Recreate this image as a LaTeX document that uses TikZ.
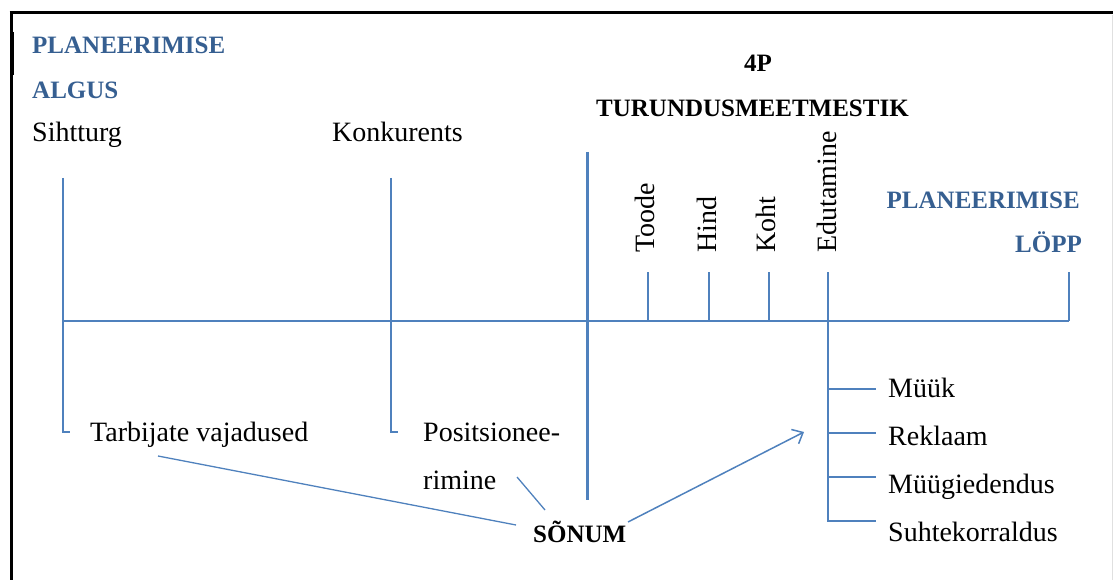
\documentclass[tikz,border=0pt]{standalone}
\usepackage{fontspec}
\setmainfont{Liberation Serif}
\usetikzlibrary{arrows.meta}
\definecolor{lineblue}{RGB}{79,129,189}
\definecolor{textblue}{RGB}{54,95,145}
\tikzset{
  lbl/.style={font=\fontsize{28}{30}\selectfont, inner sep=0pt, anchor=base west},
  rlbl/.style={lbl, rotate=90},
  hdr/.style={font=\fontsize{25}{27}\selectfont\bfseries, inner sep=0pt},
  bhdr/.style={hdr, text=textblue},
  bl/.style={draw=lineblue, line width=1.5pt},
  thick blue/.style={draw=lineblue, line width=3pt},
  frameline/.style={draw=black, line width=3pt},
}
\begin{document}
\begin{tikzpicture}[x=1pt,y=-1pt]
\useasboundingbox (0,0) rectangle (1113,580);
% frame
\draw[frameline] (9.5,13) -- (1113,13);
\draw[frameline] (11,13) -- (11,580);
\draw[draw=black, line width=4pt] (12,32) -- (12,75);
\draw[draw=black!12, line width=1pt] (1112,15) -- (1112,580);

% headings
\node[bhdr, anchor=base west] (pa1) at (32,54) {PLANEERIMISE};
\node[bhdr, anchor=base west] (pa2) at (32,99) {ALGUS};
\node[hdr, anchor=base] (fourp) at (758,72) {4P};
\node[hdr, anchor=base west] (tm) at (596,117) {TURUNDUSMEETMESTIK};
\node[bhdr, anchor=base east] (pl1) at (1080,208) {PLANEERIMISE};
\node[bhdr, anchor=base east] (pl2) at (1082,252) {LÖPP};

% top labels
\node[lbl] (siht) at (32,142) {Sihtturg};
\node[lbl] (konk) at (332,142) {Konkurents};

% rotated labels
\node[rlbl] (toode) at (654,253) {Toode};
\node[rlbl] (hind) at (716,253) {Hind};
\node[rlbl] (koht) at (775,253) {Koht};
\node[rlbl] (edu) at (836,253) {Edutamine};

% coordinates
\coordinate (axL) at (63,321);
\coordinate (axR) at (1069,321);
\coordinate (sTop) at (63,178);
\coordinate (sBot) at (63,432);
\coordinate (sFoot) at (70,432);
\coordinate (kTop) at (391,178);
\coordinate (kBot) at (391,432);
\coordinate (kFoot) at (398,432);
\coordinate (mTop) at (587,152);
\coordinate (mBot) at (587,500);
\coordinate (tTop) at (648,272);
\coordinate (tBot) at (648,321);
\coordinate (hTop) at (709,272);
\coordinate (hBot) at (709,321);
\coordinate (oTop) at (769,272);
\coordinate (oBot) at (769,321);
\coordinate (eTop) at (828,272);
\coordinate (eBot) at (828,522);
\coordinate (rTop) at (1069,272);
\coordinate (b1) at (828,389);
\coordinate (b2) at (828,433);
\coordinate (b3) at (828,477);
\coordinate (b4) at (828,521);
\coordinate (b1e) at (876,389);
\coordinate (b2e) at (876,433);
\coordinate (b3e) at (876,477);
\coordinate (b4e) at (876,521);

% bottom labels
\node[lbl] (tarb) at (90,441) {Tarbijate vajadused};
\node[lbl] (pos1) at (423,441) {Positsionee-};
\node[lbl] (pos2) at (423,489) {rimine};
\node[hdr, anchor=base west] (sonum) at (533,542) {SÕNUM};
\node[lbl] (muuk) at (888,397) {Müük};
\node[lbl] (rekl) at (888,445) {Reklaam};
\node[lbl] (muug) at (888,493) {Müügiedendus};
\node[lbl] (suht) at (888,541) {Suhtekorraldus};

% lines
\draw[bl] (axL) -- (axR);
\draw[bl] (sTop) -- (sBot) -- (sFoot);
\draw[bl] (kTop) -- (kBot) -- (kFoot);
\draw[thick blue] (mTop) -- (mBot);
\draw[bl] (tTop) -- (tBot);
\draw[bl] (hTop) -- (hBot);
\draw[bl] (oTop) -- (oBot);
\draw[bl] (eTop) -- (eBot);
\draw[bl] (rTop) -- (axR);
\draw[bl] (b1) -- (b1e);
\draw[bl] (b2) -- (b2e);
\draw[bl] (b3) -- (b3e);
\draw[bl] (b4) -- (b4e);

% connectors to SÕNUM
\coordinate (tvEnd) at (158,456);
\coordinate (snL) at (516,525);
\coordinate (posEnd) at (517,477);
\coordinate (snT) at (545,510);
\coordinate (snR) at (628,522);
\coordinate (arrTip) at (804,432);
\draw[draw=lineblue, line width=1.3pt] (tvEnd) -- (snL);
\draw[draw=lineblue, line width=1.3pt] (posEnd) -- (snT);
\draw[draw=lineblue, line width=1.5pt, -{Straight Barb[length=9pt,width=16pt]}] (snR) -- (arrTip);
\end{tikzpicture}
\end{document}
